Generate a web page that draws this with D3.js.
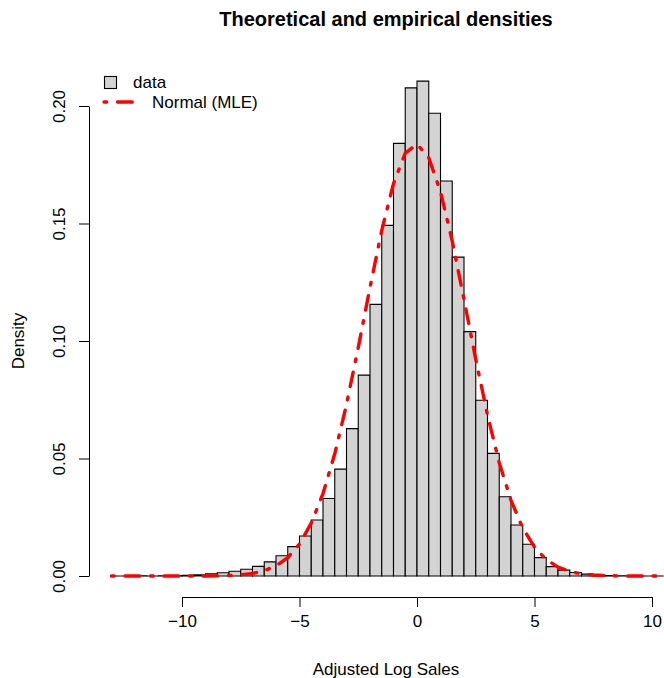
<!DOCTYPE html>
<html>
<head>
<meta charset="utf-8">
<script src="https://cdn.jsdelivr.net/npm/d3@7"></script>
<style>
  body { margin: 0; background: #fff; }
  svg { display: block; font-family: "Liberation Sans", Arial, sans-serif; }
</style>
</head>
<body>
<div class="chart"></div>
<script>
// histogram breaks (bin width 0.5) and bar densities
const breaks = [-13, -12.5, -12, -11.5, -11, -10.5, -10, -9.5, -9, -8.5, -8, -7.5, -7, -6.5,
  -6, -5.5, -5, -4.5, -4, -3.5, -3, -2.5, -2, -1.5, -1, -0.5, 0, 0.5, 1, 1.5, 2, 2.5, 3,
  3.5, 4, 4.5, 5, 5.5, 6, 6.5, 7, 7.5, 8, 8.5, 9, 9.5, 10, 10.5]
const density = [0, 0, 0.0001, 0, 0.0001, 0.0002, 0.0003, 0.0005, 0.0009, 0.0014, 0.002,
  0.0029, 0.0041, 0.006, 0.0086, 0.0125, 0.017, 0.0238, 0.033, 0.0455, 0.0627, 0.0855,
  0.1156, 0.1492, 0.1841, 0.2077, 0.2106, 0.1969, 0.1681, 0.1357, 0.104, 0.0748, 0.0522,
  0.0337, 0.0217, 0.0135, 0.0078, 0.004, 0.0025, 0.0015, 0.0008, 0.0004, 0.0002, 0.0001,
  0.0001, 0, 0]

// fitted normal curve
const curveX = [-13, -12.5, -12, -11.5, -11, -10.5, -10, -9.5, -9, -8.5, -8, -7.5, -7, -6.5,
  -6, -5.5, -5, -4.5, -4, -3.5, -3, -2.5, -2, -1.5, -1, -0.5, 0, 0.5, 1, 1.5, 2, 2.5, 3,
  3.5, 4, 4.5, 5, 5.5, 6, 6.5, 7, 7.5, 8, 8.5, 9, 9.5, 10, 10.5]
const curveY = [0, 0, 0, 0, 0, 0, 0, 0, 0.00001, 0.00006, 0.00022, 0.00051, 0.00109, 0.00222,
  0.00429, 0.00785, 0.0136, 0.0225, 0.0351, 0.052, 0.073, 0.0972, 0.1228, 0.1471, 0.167,
  0.1799, 0.1838, 0.178, 0.1635, 0.1425, 0.1177, 0.0922, 0.0685, 0.0482, 0.0322, 0.0204,
  0.0123, 0.007, 0.0038, 0.0019, 0.0009, 0.0004, 0.0002, 0.00006, 0.00002, 0, 0, 0]

const xTicks = [-10, -5, 0, 5, 10]
const yTicks = [0, 0.05, 0.1, 0.15, 0.2]
const legendLabels = ["data", "Normal (MLE)"]

const W = 664, H = 678
const fs = 17

const svg = d3.select(".chart").append("svg")
  .attr("width", W)
  .attr("height", H)

const x = d3.scaleLinear().domain([-10, 10]).range([182, 652])
const y = d3.scaleLinear().domain([0, 0.2]).range([576, 106])

// bars (as paths so zero-height bins still draw the baseline)
const bins = density.map((d, i) => ({ x0: breaks[i], x1: breaks[i + 1], v: d }))
svg.append("g")
  .selectAll("path")
  .data(bins)
  .join("path")
  .attr("d", d => `M${x(d.x0)},${y(0)}V${y(d.v)}H${x(d.x1)}V${y(0)}Z`)
  .attr("fill", "#d3d3d3")
  .attr("stroke", "#000")
  .attr("stroke-width", 1.1)

// normal curve
const dash = "2.7,10.8,14.7,10.8"
svg.append("path")
  .datum(curveX.map((v, i) => [v, curveY[i]]))
  .attr("fill", "none")
  .attr("stroke", "#ff0000")
  .attr("stroke-width", 3.4)
  .attr("stroke-linecap", "round")
  .attr("stroke-linejoin", "round")
  .attr("stroke-dasharray", dash)
  .attr("d", d3.line().x(d => x(d[0])).y(d => y(d[1])))

// x axis
const xAxis = svg.append("g")
  .attr("transform", "translate(0,597)")
  .call(d3.axisBottom(x).tickValues(xTicks).tickSize(10).tickSizeOuter(0).tickPadding(8))
xAxis.selectAll("text").style("font-size", fs + "px").attr("fill", "#000")
xAxis.selectAll("line,path").attr("stroke", "#000")

// y axis
const yAxis = svg.append("g")
  .attr("transform", "translate(89,0)")
  .call(d3.axisLeft(y).tickValues(yTicks).tickSize(10).tickSizeOuter(0).tickFormat(d3.format(".2f")))
yAxis.selectAll("line,path").attr("stroke", "#000")
yAxis.selectAll("text")
  .style("font-size", fs + "px")
  .attr("fill", "#000")
  .attr("x", null).attr("dy", null)
  .attr("text-anchor", "middle")
  .attr("transform", "translate(-24,0) rotate(-90)")

// labels
svg.append("text")
  .attr("x", 386).attr("y", 26)
  .attr("text-anchor", "middle")
  .style("font-size", "20px")
  .style("font-weight", "bold")
  .text("Theoretical and empirical densities")

svg.append("text")
  .attr("x", 386).attr("y", 675)
  .attr("text-anchor", "middle")
  .style("font-size", fs + "px")
  .text("Adjusted Log Sales")

svg.append("text")
  .attr("transform", "translate(24,341) rotate(-90)")
  .attr("text-anchor", "middle")
  .style("font-size", fs + "px")
  .text("Density")

// legend
const lg = svg.append("g")
lg.append("rect")
  .attr("x", 104.5).attr("y", 76.5)
  .attr("width", 12).attr("height", 12)
  .attr("fill", "#d3d3d3").attr("stroke", "#000").attr("stroke-width", 1.1)
lg.append("text")
  .attr("x", 133).attr("y", 88)
  .style("font-size", fs + "px")
  .text(legendLabels[0])
lg.append("line")
  .attr("x1", 104).attr("x2", 135).attr("y1", 102).attr("y2", 102)
  .attr("stroke", "#ff0000").attr("stroke-width", 3.4)
  .attr("stroke-linecap", "round")
  .attr("stroke-dasharray", dash)
lg.append("text")
  .attr("x", 152).attr("y", 108)
  .style("font-size", fs + "px")
  .text(legendLabels[1])
</script>
</body>
</html>
